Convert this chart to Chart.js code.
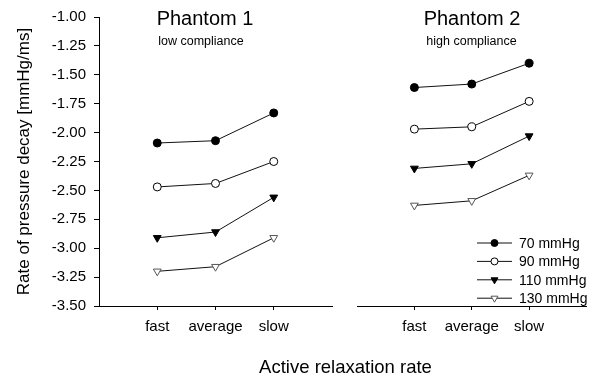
<!DOCTYPE html>
<html lang="en">
<head>
    <meta charset="UTF-8">
    <title>Rate of pressure decay</title>
    <style>
        html, body { margin: 0; padding: 0; background: #fff; }
        #wrap { position: relative; width: 592px; height: 377px; }
        #wrap canvas { position: absolute; left: 0; top: 0; }
    </style>
</head>
<body>
    <div id="wrap">
        <canvas id="phantom1" width="592" height="377"></canvas>
        <canvas id="phantom2" width="592" height="377"></canvas>
    </div>

    <script src="https://cdn.jsdelivr.net/npm/chart.js"></script>
    <script>
        // categories and tick labels
        const categories = ['fast', 'average', 'slow'];
        const yTickValues = [-3.5, -3.25, -3.0, -2.75, -2.5, -2.25, -2.0, -1.75, -1.5, -1.25, -1.0];
        const pressureLabels = ['70 mmHg', '90 mmHg', '110 mmHg', '130 mmHg'];

        // Phantom 1 (low compliance)
        const phantom1_70 = [-2.09, -2.07, -1.83];
        const phantom1_90 = [-2.47, -2.44, -2.25];
        const phantom1_110 = [-2.91, -2.86, -2.56];
        const phantom1_130 = [-3.20, -3.16, -2.91];

        // Phantom 2 (high compliance)
        const phantom2_70 = [-1.61, -1.58, -1.40];
        const phantom2_90 = [-1.97, -1.95, -1.73];
        const phantom2_110 = [-2.31, -2.27, -2.03];
        const phantom2_130 = [-2.63, -2.59, -2.37];

        const family = '"Liberation Sans", Arial, Helvetica, sans-serif';
        Chart.defaults.font.family = family;
        Chart.defaults.color = '#000';

        // marker look for each pressure
        const markerStyles = [
            { pointStyle: 'circle', pointRadius: 4, pointBackgroundColor: '#000', pointBorderColor: '#000' },
            { pointStyle: 'circle', pointRadius: 4, pointBackgroundColor: '#fff', pointBorderColor: '#000' },
            { pointStyle: 'triangle', pointRotation: 180, pointRadius: 4.5, pointBackgroundColor: '#000', pointBorderColor: '#000' },
            { pointStyle: 'triangle', pointRotation: 180, pointRadius: 4.5, pointBackgroundColor: '#fff', pointBorderColor: '#555' }
        ];

        function buildDatasets(series) {
            return series.map((vals, i) => Object.assign({
                label: pressureLabels[i],
                data: vals.map((v, j) => ({ x: j + 1, y: v })),
                borderColor: '#111',
                borderWidth: 1,
                pointBorderWidth: 1,
                pointHoverRadius: 4,
                tension: 0,
                fill: false
            }, markerStyles[i]));
        }

        // title + subtitle inside the plot area
        const panelText = {
            id: 'panelText',
            afterDraw(chart, args, opts) {
                const ctx = chart.ctx;
                ctx.save();
                ctx.fillStyle = '#000';
                ctx.textAlign = 'center';
                ctx.textBaseline = 'alphabetic';
                ctx.font = '20px ' + family;
                ctx.fillText(opts.title, opts.titleX, 25);
                ctx.font = '12.5px ' + family;
                ctx.fillText(opts.subtitle, opts.subtitleX, 45);
                if (opts.axisTitle) {
                    ctx.font = '18.5px ' + family;
                    ctx.fillText(opts.axisTitle, opts.axisTitleX, 373);
                }
                ctx.restore();
            }
        };

        // legend with a short line through each marker
        const lineLegend = {
            id: 'lineLegend',
            afterDraw(chart, args, opts) {
                if (!opts.show) return;
                const ctx = chart.ctx;
                ctx.save();
                chart.data.datasets.forEach((ds, i) => {
                    const y = 243 + i * 18.4;
                    ctx.strokeStyle = '#111';
                    ctx.lineWidth = 1;
                    ctx.beginPath();
                    ctx.moveTo(477, y);
                    ctx.lineTo(512, y);
                    ctx.stroke();
                    ctx.fillStyle = ds.pointBackgroundColor;
                    ctx.strokeStyle = ds.pointBorderColor;
                    Chart.helpers.drawPoint(ctx, {
                        pointStyle: ds.pointStyle,
                        rotation: ds.pointRotation || 0,
                        radius: ds.pointStyle === 'circle' ? 3.5 : 4,
                        borderWidth: 1
                    }, 494.5, y);
                    ctx.fillStyle = '#000';
                    ctx.font = '14px ' + family;
                    ctx.textAlign = 'left';
                    ctx.textBaseline = 'middle';
                    ctx.fillText(ds.label, 519, y + 1);
                });
                ctx.restore();
            }
        };

        function xScale() {
            return {
                type: 'linear',
                min: 0,
                max: categories.length + 1,
                afterBuildTicks: s => { s.ticks = categories.map((c, i) => ({ value: i + 1 })); },
                ticks: {
                    callback: v => categories[v - 1] || '',
                    font: { size: 15 },
                    color: '#000',
                    padding: 8,
                    maxRotation: 0,
                    autoSkip: false
                },
                grid: { drawOnChartArea: false, drawTicks: true, tickLength: 4, color: '#000' },
                border: { display: true, color: '#000', width: 1 },
                afterFit: s => { s.height = 71; }
            };
        }

        function yScale(show) {
            return {
                display: show,
                min: yTickValues[0],
                max: yTickValues[yTickValues.length - 1],
                afterBuildTicks: s => { s.ticks = yTickValues.map(v => ({ value: v })); },
                ticks: { callback: v => v.toFixed(2), font: { size: 15 }, color: '#000', padding: 8 },
                grid: { drawOnChartArea: false, drawTicks: true, tickLength: 5, color: '#000' },
                border: { display: true, color: '#000', width: 1 },
                title: {
                    display: true,
                    text: 'Rate of pressure decay [mmHg/ms]',
                    font: { size: 17 },
                    color: '#000',
                    padding: { top: 14, bottom: 0 }
                },
                afterFit: s => { s.width = show ? 99 : 0; }
            };
        }

        function makeChart(id, series, padding, showY, text, legend) {
            return new Chart(document.getElementById(id), {
                type: 'line',
                data: { datasets: buildDatasets(series) },
                options: {
                    responsive: false,
                    animation: false,
                    layout: { padding: padding },
                    scales: { x: xScale(), y: yScale(showY) },
                    plugins: {
                        legend: { display: false },
                        tooltip: { enabled: false },
                        panelText: text,
                        lineLegend: { show: legend }
                    }
                },
                plugins: [panelText, lineLegend]
            });
        }

        makeChart('phantom1',
            [phantom1_70, phantom1_90, phantom1_110, phantom1_130],
            { top: 17, right: 260, bottom: 0, left: 0 },
            true,
            { title: 'Phantom 1', titleX: 205, subtitle: 'low compliance', subtitleX: 201,
              axisTitle: 'Active relaxation rate', axisTitleX: 345.5 },
            false);

        makeChart('phantom2',
            [phantom2_70, phantom2_90, phantom2_110, phantom2_130],
            { top: 17, right: 3, bottom: 0, left: 357 },
            false,
            { title: 'Phantom 2', titleX: 472, subtitle: 'high compliance', subtitleX: 471.5 },
            true);
    </script>
</body>
</html>
